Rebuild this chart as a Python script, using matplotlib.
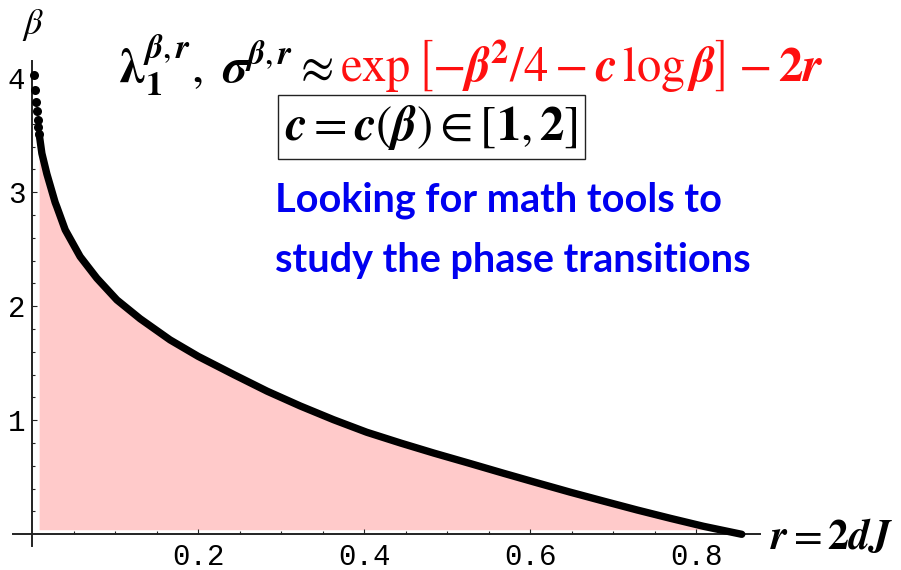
import matplotlib
matplotlib.use("Agg")
import matplotlib.pyplot as plt
from matplotlib.ticker import FixedLocator

import numpy as np

plt.rcParams['mathtext.fontset'] = 'stix'

# curve: r = 2dJ  vs  beta
r = [0.0027, 0.0039, 0.0051, 0.0060, 0.0068, 0.0075, 0.0083, 0.0095, 0.0116,
     0.0156, 0.0176, 0.0216, 0.0276, 0.0297, 0.0397, 0.0577, 0.0779, 0.102,
     0.130, 0.166, 0.200, 0.243, 0.283, 0.323, 0.363, 0.403, 0.444, 0.484,
     0.528, 0.568, 0.608, 0.648, 0.689, 0.729, 0.769, 0.809, 0.855]
beta = [4.03, 3.90, 3.79, 3.71, 3.63, 3.57, 3.51, 3.45, 3.34,
        3.22, 3.16, 3.06, 2.91, 2.87, 2.67, 2.435, 2.245, 2.055,
        1.89, 1.705, 1.56, 1.40, 1.255, 1.125, 1.005, 0.895, 0.80, 0.712,
        0.620, 0.535, 0.452, 0.37, 0.29, 0.213, 0.14, 0.07, 0.0]
n_dots = 7  # the separate dots near the top

x_ticks = [0.2, 0.4, 0.6, 0.8]
x_labels = ['0.2', '0.4', '0.6', '0.8']
y_ticks = [1, 2, 3, 4]
y_labels = ['1', '2', '3', '4']

W, H = 901, 570


def fx(px):
    return px / W


def fy(py):
    return 1 - py / H


r = np.array(r)
beta = np.array(beta)

fig = plt.figure(figsize=(W / 100, H / 100), dpi=100)
ax = fig.add_axes([fx(13), fy(545.7), 747 / W, 484.7 / H])
ax.set_xlim(-0.0232, 0.877)
ax.set_ylim(-0.1, 4.15)

# pink area under the curve
rr, bb = r[n_dots - 1:], beta[n_dots - 1:]
ax.fill_between(rr, 0.04, bb, where=bb >= 0.04, interpolate=True,
                color='#ffcaca', lw=0, zorder=1)
ax.plot(rr, bb, color='black', lw=5.3, solid_capstyle='round',
        solid_joinstyle='round', zorder=3)
ax.plot(r[:n_dots], beta[:n_dots], 'o', color='black', ms=6.5, mew=0, zorder=3)

for s in ['top', 'right']:
    ax.spines[s].set_visible(False)
for s in ['left', 'bottom']:
    ax.spines[s].set_position(('data', 0))
    ax.spines[s].set_linewidth(1.4)
    ax.spines[s].set_color('#222222')
ax.spines['left'].set_bounds(-0.1, 4.15)
ax.spines['bottom'].set_bounds(-0.0232, 0.877)

ax.set_xticks(x_ticks)
ax.set_xticklabels(x_labels)
ax.set_yticks(y_ticks)
ax.set_yticklabels(y_labels)
ax.xaxis.set_minor_locator(FixedLocator([0.05 * i for i in range(1, 18) if i % 4]))
ax.yaxis.set_minor_locator(FixedLocator([0.2 * i for i in range(1, 21) if i % 5]))
ax.tick_params(which='both', direction='in', color='#222222', width=0.8)
ax.tick_params(which='major', length=3.5)
ax.tick_params(which='minor', length=2.2)
ax.tick_params(axis='x', which='major', pad=6)
ax.tick_params(axis='y', which='major', pad=5)
for lab in ax.get_xticklabels() + ax.get_yticklabels():
    lab.set_family('Liberation Mono')
    lab.set_fontsize(21)
ax.patch.set_visible(False)

# axis labels
fig.text(fx(33), fy(25), r'$\beta$', ha='center', va='center', fontsize=26)
fig.text(fx(770), fy(537), r'$\boldsymbol{r}=\mathbf{2}\boldsymbol{dJ}$',
         ha='left', va='center', fontsize=30)

# formula line
fig.text(fx(333), fy(65),
         r'$\boldsymbol{\lambda}_{\mathbf{1}}^{\boldsymbol{\beta},\boldsymbol{r}},\ '
         r'\boldsymbol{\sigma}^{\boldsymbol{\beta},\boldsymbol{r}}\approx$',
         ha='right', va='center', fontsize=35, color='black')
fig.text(fx(340), fy(65),
         r'$\mathrm{exp}\,\left[-\boldsymbol{\beta}^{\mathbf{2}}/4-\boldsymbol{c}\,'
         r'\log\boldsymbol{\beta}\right]-\mathbf{2}\boldsymbol{r}$',
         ha='left', va='center', fontsize=35, color='#ff1010')
fig.text(fx(431.5), fy(127),
         r'$\boldsymbol{c}=\boldsymbol{c}(\boldsymbol{\beta})\in[\mathbf{1},\mathbf{2}]$',
         ha='center', va='center', fontsize=35,
         bbox=dict(boxstyle='square,pad=0.15', fc='white', ec='#222222', lw=1))

# blue note
fig.text(fx(275), fy(211.7), 'Looking for math tools to', ha='left', va='baseline',
         fontsize=28.5, fontweight='bold', color='#0000f0', family='Lato')
fig.text(fx(275), fy(271.7), 'study the phase transitions', ha='left', va='baseline',
         fontsize=28.5, fontweight='bold', color='#0000f0', family='Lato')

fig.savefig('out.png', dpi=100)
